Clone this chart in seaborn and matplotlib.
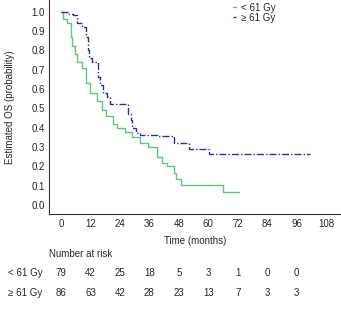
import numpy as np
import pandas as pd
import matplotlib
matplotlib.use("Agg")
import matplotlib.pyplot as plt
import seaborn as sns

# Kaplan-Meier step values
low_time = [0, 1, 2.5, 4, 4.5, 5.5, 6.5, 8.5, 10, 12, 14.5, 16.5, 18.5, 21, 23, 26, 29,
            32, 35.5, 39, 41, 43, 46, 47, 49, 66, 72.5]
low_surv = [1.0, 0.96, 0.94, 0.87, 0.82, 0.78, 0.74, 0.71, 0.63, 0.58, 0.54, 0.49, 0.46,
            0.42, 0.40, 0.38, 0.35, 0.32, 0.30, 0.25, 0.22, 0.20, 0.165, 0.135, 0.105, 0.07, 0.07]
high_time = [0, 3, 5, 6.5, 8.5, 10, 11, 11.5, 12.6, 15, 16, 17, 18.7, 20, 26, 27.5, 28.5,
             29, 30.5, 32, 39, 46, 52, 60.5, 101.5]
high_surv = [1.0, 0.99, 0.98, 0.94, 0.92, 0.87, 0.80, 0.76, 0.74, 0.66, 0.62, 0.58, 0.56,
             0.525, 0.525, 0.47, 0.44, 0.40, 0.375, 0.36, 0.355, 0.32, 0.29, 0.265, 0.265]

groups = ["< 61 Gy", "\u2265 61 Gy"]
colors = ["#5fc878", "#2a2fa5"]
xticks = [0, 12, 24, 36, 48, 60, 72, 84, 96, 108]
risk_times = [0, 12, 24, 36, 48, 60, 72, 84, 96]
risk_low = [79, 42, 25, 18, 5, 3, 1, 0, 0]
risk_high = [86, 63, 42, 28, 23, 13, 7, 3, 3]

df = pd.concat([
    pd.DataFrame({"time": low_time, "surv": low_surv, "group": groups[0]}),
    pd.DataFrame({"time": high_time, "surv": high_surv, "group": groups[1]}),
])

sns.set_style("white")
plt.rcParams["font.family"] = ["Liberation Sans", "DejaVu Sans"]
fs = 7

W, H = 341, 310
fig = plt.figure(figsize=(W / 100, H / 100), dpi=100)
ax = fig.add_axes([49 / W, 1 - 214 / H, (340 - 49) / W, 214 / H])

sns.lineplot(data=df[df.group == groups[0]], x="time", y="surv", ax=ax,
             color=colors[0], drawstyle="steps-post", linewidth=1.0,
             estimator=None, label=groups[0])
sns.lineplot(data=df[df.group == groups[1]], x="time", y="surv", ax=ax,
             color=colors[1], drawstyle="steps-post", linewidth=1.0,
             linestyle=(0, (5, 1.5, 1, 1.5)), estimator=None, label=groups[1])

ax.set_xlim(-4.9, 113.7)
ax.set_ylim(-0.046, 1.06)
ax.set_xticks(xticks)
ax.set_yticks(np.arange(0, 1.01, 0.1))
ax.set_yticklabels([f"{v:.1f}" for v in np.arange(0, 1.01, 0.1)])
ax.tick_params(axis="y", length=0, labelsize=fs, pad=3)
ax.tick_params(axis="x", length=1.5, width=0.6, color="#555555", labelsize=fs, pad=2)
for s in ["top", "right"]:
    ax.spines[s].set_visible(False)
for s in ["left", "bottom"]:
    ax.spines[s].set_color("#333333")
    ax.spines[s].set_linewidth(0.8)
ax.set_xlabel("")
ax.set_ylabel("Estimated OS (probability)", fontsize=fs, labelpad=12)

leg = ax.legend(loc="upper left", bbox_to_anchor=(227 / W, 1.01), bbox_transform=fig.transFigure,
                frameon=False, fontsize=fs, handlelength=0.35, handletextpad=0.5,
                labelspacing=0.0, borderpad=0.1)

fig.text(195 / W, 1 - 241 / H, "Time (months)", fontsize=fs, ha="center", va="center")
fig.text(49 / W, 1 - 254 / H, "Number at risk", fontsize=fs, ha="left", va="center")
for row, (lab, vals) in enumerate([(groups[0], risk_low), (groups[1], risk_high)]):
    yf = 1 - (273 + 20 * row) / H
    fig.text(8 / W, yf, lab, fontsize=fs, ha="left", va="center")
    for t, v in zip(risk_times, vals):
        xf = (61 + 2.454 * t) / W
        fig.text(xf, yf, str(v), fontsize=fs, ha="center", va="center")

fig.savefig("out.png", dpi=100)
